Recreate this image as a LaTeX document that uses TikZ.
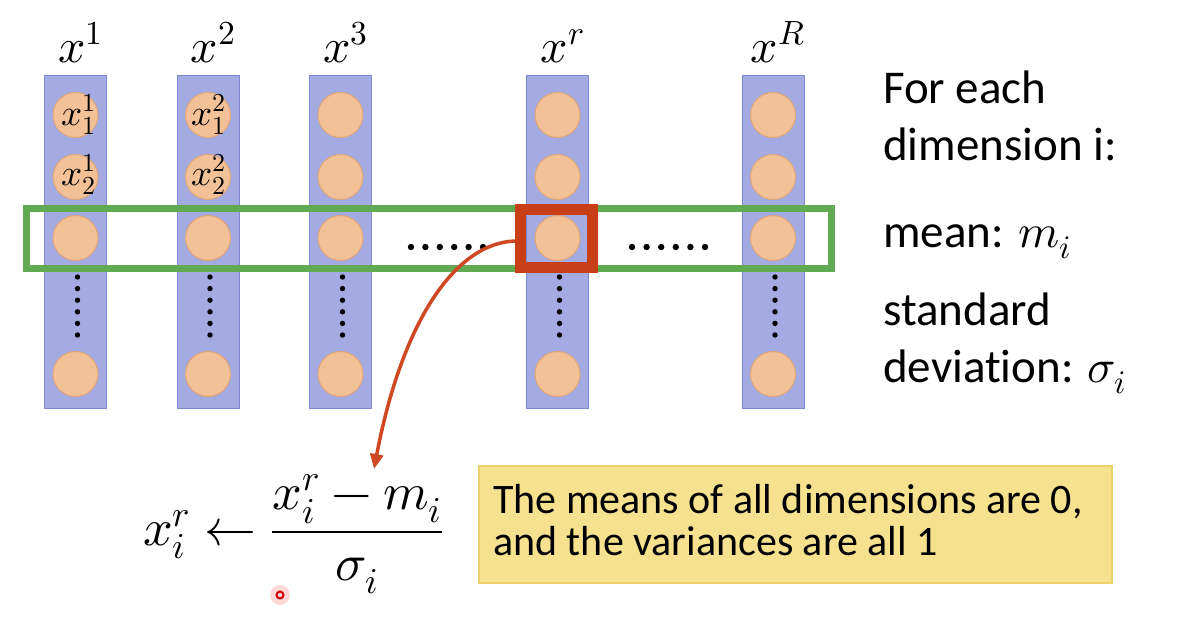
\documentclass[tikz,border=0pt]{standalone}
\usepackage{fontspec}
\usepackage{unicode-math}
\setmainfont{Carlito}[Ligatures=NoCommon]
\setmathfont{Latin Modern Math}
\usetikzlibrary{arrows.meta}
\definecolor{colfill}{RGB}{163,171,226}
\definecolor{colline}{RGB}{125,135,210}
\definecolor{peach}{RGB}{243,193,152}
\definecolor{peachline}{RGB}{226,166,118}
\definecolor{boxgreen}{RGB}{98,170,82}
\definecolor{boxred}{RGB}{200,62,22}
\definecolor{arrowred}{RGB}{205,72,35}
\definecolor{notefill}{RGB}{246,226,142}
\definecolor{noteline}{RGB}{236,208,105}
\begin{document}
\begin{tikzpicture}[x=1pt,y=-1pt,
  colbox/.style={draw=colline, fill=colfill, line width=1pt, inner sep=0pt, minimum width=62pt, minimum height=333pt},
  bead/.style={circle, draw=peachline, fill=peach, line width=1pt, inner sep=0pt, minimum size=45pt},
  lab/.style={inner sep=0pt, font=\fontsize{48}{56}\selectfont},
  formula/.style={inner sep=0pt, font=\fontsize{52}{60}\selectfont},
  beadlab/.style={inner sep=0pt, font=\fontsize{37}{40}\selectfont},
  txt/.style={inner sep=0pt, anchor=base west, font=\fontsize{47}{56}\selectfont},
  notetxt/.style={inner sep=0pt, anchor=base west, font=\fontsize{42}{50}\selectfont},
  bigdot/.style={fill=black},
]
\useasboundingbox (0,0) rectangle (1178,622);
\fill[white] (0,0) rectangle (1178,622);

% columns with beads
\foreach \n/\cx in {1/75.5, 2/208, 3/340.5, r/557.5, R/773}{
  \node[colbox] (col\n) at (\cx,241.5) {};
  \foreach \row/\cy in {a/115, b/177, c/238, d/374}{
    \node[bead] (b\n\row) at (\cx,\cy) {};
  }
  \foreach \k in {0,...,5}{
    \fill[bigdot] (\cx+2,277+11.6*\k) circle (2.7);
  }
  \node[lab, anchor=base] (l\n) at (\cx+5,62) {$x^{\n}$};
}

% labels inside beads
\node[beadlab, anchor=base] (t11) at (78.5,125) {$x_1^1$};
\node[beadlab, anchor=base] (t12) at (78.5,185) {$x_2^1$};
\node[beadlab, anchor=base] (t21) at (209,125) {$x_1^2$};
\node[beadlab, anchor=base] (t22) at (209,185) {$x_2^2$};

% green row box
\node[draw=boxgreen, line width=7pt, inner sep=0pt, minimum width=805pt, minimum height=60pt] (grow) at (429,238.5) {};

% horizontal dots
\foreach \k in {0,...,5}{
  \fill[bigdot] (411+14.4*\k,247) circle (3.2);
  \fill[bigdot] (632+14.6*\k,247) circle (3.2);
}

% red square
\node[draw=boxred, line width=11pt, inner sep=0pt, minimum width=72pt, minimum height=58pt] (rs) at (556.5,238) {};

% arrow
\coordinate (tip) at (374,469);
\draw[arrowred, line width=3.5pt, -{Triangle[length=15pt,width=13pt]}]
  ([yshift=-3pt]rs.west) .. controls (455,243) and (402,322) .. (tip);

% right text
\node[txt] (t1) at (883,103) {For each};
\node[txt] (t2) at (883,160) {dimension i:};
\node[txt] (t3) at (883,247) {mean: $m_i$};
\node[txt] (t4) at (883,325) {standard};
\node[txt] (t5) at (883,382) {deviation: $\sigma_i$};

% formula
\node[formula, anchor=base west] (f) at (143,545) {$\displaystyle x_i^r \leftarrow \frac{x_i^r - m_i}{\sigma_i}$};

% note box
\node[draw=noteline, fill=notefill, line width=1.5pt, inner sep=0pt, minimum width=633pt, minimum height=117pt] (note) at (795.5,524.5) {};
\node[notetxt] (n1) at (493,513) {The means of all dimensions are 0,};
\node[notetxt] (n2) at (493,555) {and the variances are all 1};

% pointer mark
\fill[red!25, opacity=0.6] (280,595) circle (10);
\draw[red!80!black, line width=2pt] (280,595) circle (3.5);
\end{tikzpicture}
\end{document}
